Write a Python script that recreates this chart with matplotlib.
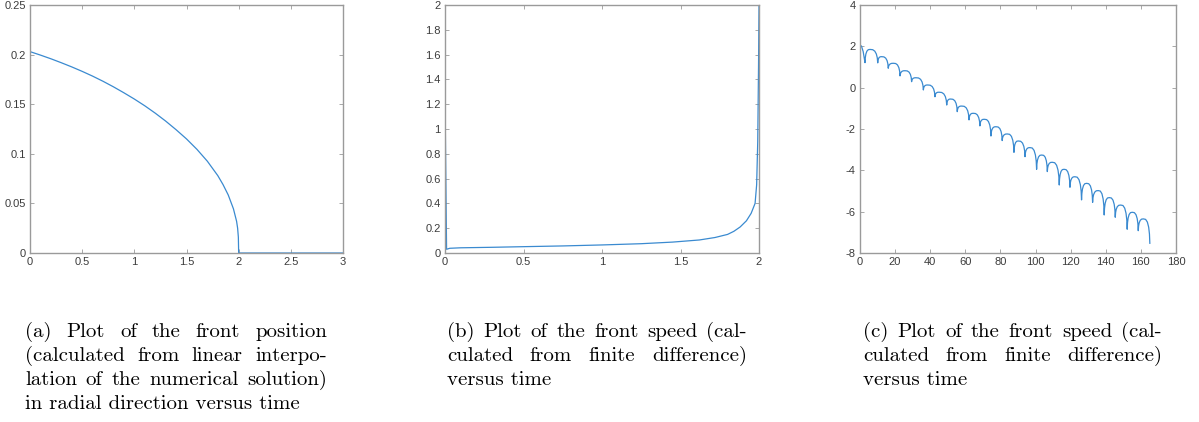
import matplotlib
matplotlib.use('Agg')
import matplotlib.pyplot as plt

# (a) front position versus time
t_a = [0, 0.1, 0.2, 0.3, 0.4, 0.5, 0.6, 0.7, 0.8, 0.9, 1.0, 1.1, 1.2, 1.3, 1.4, 1.5, 1.6,
       1.7, 1.8, 1.85, 1.9, 1.95, 1.98, 1.99, 1.997, 2.0, 3.0]
r_a = [0.203, 0.1995, 0.1958, 0.1918, 0.1876, 0.1831, 0.1783, 0.1731, 0.1675, 0.1615,
       0.1552, 0.1484, 0.1410, 0.1330, 0.1243, 0.1150, 0.1045, 0.0925, 0.0780, 0.0690,
       0.0585, 0.0445, 0.0320, 0.0250, 0.0160, 0.0, 0.0]

# (b) front speed versus time
t_b = [0, 0.01, 0.03, 0.1, 0.3, 0.5, 0.75, 1.0, 1.25, 1.45, 1.62, 1.72, 1.8, 1.84, 1.88,
       1.92, 1.95, 1.975, 1.985, 1.992, 1.997, 2.0]
v_b = [1.26, 0.03, 0.038, 0.042, 0.046, 0.051, 0.057, 0.065, 0.075, 0.088, 0.105, 0.125,
       0.15, 0.175, 0.21, 0.26, 0.32, 0.40, 0.55, 0.9, 1.5, 2.0]

# (c) front speed versus time (oscillating)
start_t = [0, 0.8, 1.8]
start_v = [2.03, 2.02, 1.75]
cusp_t = [2.85, 10.1, 16.1, 22.8, 29.4, 36.1, 42.7, 49.4, 55.4, 62.1, 68.3, 74.6, 81.0,
          87.7, 94.0, 100.6, 106.7, 113.5, 119.6, 126.2, 132.5, 139.1, 145.4, 152.2, 158.5, 165.1]
cusp_v = [1.21, 1.2, 0.94, 0.57, 0.29, -0.11, -0.44, -0.84, -1.16, -1.56, -1.85, -2.34, -2.56,
          -3.13, -3.34, -3.95, -4.06, -4.71, -4.82, -5.43, -5.55, -6.16, -6.27, -6.85, -6.92, -7.53]
peak_t = [5.7, 12.3, 19.0, 25.6, 31.9, 38.5, 45.0, 51.6, 57.9, 64.5, 70.8, 77.4, 83.9, 90.2,
          96.8, 103.5, 109.5, 116.2, 122.4, 129.1, 135.7, 142.0, 148.5, 155.1, 161.4]
peak_v = [1.85, 1.5, 1.18, 0.82, 0.48, 0.13, -0.22, -0.55, -0.89, -1.24, -1.53, -1.89, -2.24,
          -2.58, -2.90, -3.26, -3.61, -3.95, -4.31, -4.63, -4.98, -5.32, -5.68, -6.03, -6.35]
# shape of one arch half (fraction of the way, fraction of the height)
arch_u = [0, 0.06, 0.18, 0.38, 0.65, 1.0]
arch_f = [0, 0.38, 0.66, 0.87, 0.98, 1.0]

xt_a = [0, 0.5, 1, 1.5, 2, 2.5, 3]
xl_a = ['0', '0.5', '1', '1.5', '2', '2.5', '3']
yt_a = [0, 0.05, 0.1, 0.15, 0.2, 0.25]
yl_a = ['0', '0.05', '0.1', '0.15', '0.2', '0.25']
xt_b = [0, 0.5, 1, 1.5, 2]
xl_b = ['0', '0.5', '1', '1.5', '2']
yt_b = [0, 0.2, 0.4, 0.6, 0.8, 1, 1.2, 1.4, 1.6, 1.8, 2]
yl_b = ['0', '0.2', '0.4', '0.6', '0.8', '1', '1.2', '1.4', '1.6', '1.8', '2']
xt_c = [0, 20, 40, 60, 80, 100, 120, 140, 160, 180]
xl_c = [str(v) for v in xt_c]
yt_c = [-8, -6, -4, -2, 0, 2, 4]
yl_c = ['-8', '-6', '-4', '-2', '0', '2', '4']

captions = [
    ['(a) Plot of the front position', '(calculated from linear interpo-',
     'lation of the numerical solution)', 'in radial direction versus time'],
    ['(b) Plot of the front speed (cal-', 'culated from finite difference)', 'versus time'],
    ['(c) Plot of the front speed (cal-', 'culated from finite difference)', 'versus time'],
]

# build the arches of panel (c)
t_c = list(start_t)
v_c = list(start_v)
for i in range(len(peak_t)):
    c0, c1 = cusp_t[i], cusp_t[i + 1]
    y0, y1 = cusp_v[i], cusp_v[i + 1]
    pt, pv = peak_t[i], peak_v[i]
    for u, f in zip(arch_u, arch_f):
        t_c.append(c0 + u * (pt - c0))
        v_c.append(y0 + f * (pv - y0))
    for u, f in zip(reversed(arch_u[:-1]), reversed(arch_f[:-1])):
        t_c.append(c1 - u * (c1 - pt))
        v_c.append(y1 + f * (pv - y1))

W, H = 1199, 422
plt.rcParams['axes.unicode_minus'] = False
fig = plt.figure(figsize=(W / 100, H / 100), dpi=100)

line_col = '#3a8ad0'
box_col = '#9a9a9a'
lab_col = '#3c3c3c'

panels = [
    (30, 343, t_a, r_a, (0, 3), (0, 0.25), xt_a, xl_a, yt_a, yl_a),
    (445, 759, t_b, v_b, (0, 2), (0, 2), xt_b, xl_b, yt_b, yl_b),
    (860, 1176, t_c, v_c, (0, 180), (-8, 4), xt_c, xl_c, yt_c, yl_c),
]
top, bottom = 5, 253
for left, right, x, y, xlim, ylim, xt, xl, yt, yl in panels:
    ax = fig.add_axes([left / W, 1 - bottom / H, (right - left) / W, (bottom - top) / H])
    ax.plot(x, y, color=line_col, lw=0.9)
    ax.set_xlim(*xlim)
    ax.set_ylim(*ylim)
    ax.set_xticks(xt)
    ax.set_xticklabels(xl)
    ax.set_yticks(yt)
    ax.set_yticklabels(yl)
    for s in ax.spines.values():
        s.set_color(box_col)
        s.set_linewidth(1.0)
    ax.tick_params(direction='in', length=3, width=0.6, color=box_col, labelcolor=lab_col,
                   labelsize=8, top=True, right=True, pad=3)
    for lab in ax.get_xticklabels() + ax.get_yticklabels():
        lab.set_family('Liberation Sans')

# captions, justified like the LaTeX source
renderer = fig.canvas.get_renderer()
cap_x = [(25, 327), (447, 747), (863, 1162)]
cap_size = 15
base0, dy = 337, 24
for (x0, x1), lines in zip(cap_x, captions):
    for i, line in enumerate(lines):
        yb = 1 - (base0 + i * dy) / H
        if i == len(lines) - 1:
            fig.text(x0 / W, yb, line, family='cmr10', size=cap_size, va='baseline')
            continue
        words = line.split()
        texts = [fig.text(0, yb, w, family='cmr10', size=cap_size, va='baseline') for w in words]
        widths = [t.get_window_extent(renderer).width for t in texts]
        gap = (x1 - x0 - sum(widths)) / (len(words) - 1)
        xp = x0
        for t, w in zip(texts, widths):
            t.set_x(xp / W)
            xp += w + gap

fig.savefig('out.png', dpi=100)
